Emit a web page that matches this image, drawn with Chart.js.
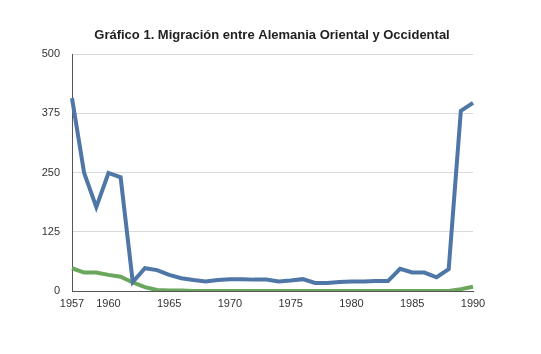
<!DOCTYPE html>
<html>
<head>
<meta charset="utf-8">
<script src="https://cdn.jsdelivr.net/npm/chart.js@4"></script>
<style>
  html, body { margin: 0; padding: 0; background: #fff; }
  #wrap { width: 541px; height: 354px; }
</style>
</head>
<body>
<div id="wrap"><canvas id="chart" width="541" height="354"></canvas></div>
<script>
// Years 1957-1990
const years = [1957, 1958, 1959, 1960, 1961, 1962, 1963, 1964, 1965, 1966, 1967,
    1968, 1969, 1970, 1971, 1972, 1973, 1974, 1975, 1976, 1977, 1978, 1979,
    1980, 1981, 1982, 1983, 1984, 1985, 1986, 1987, 1988, 1989, 1990];

// East -> West (thousands)
const eastToWest = [407, 249, 177, 249, 240, 19, 48, 44, 34, 27, 23,
    20, 23, 25, 25, 24, 24, 20, 22, 25, 17, 17, 19,
    20, 20, 21, 21, 47, 39, 39, 29, 46, 380, 397];

// West -> East (thousands)
const westToEast = [48, 39, 39, 34, 30, 18, 8, 2, 1, 1, 0,
    0, 0, 0, 0, 0, 0, 0, 0, 0, 0, 0, 0,
    0, 0, 0, 0, 0, 0, 0, 0, 0, 4, 9];

const xTickLabels = [1957, 1960, 1965, 1970, 1975, 1980, 1985, 1990];
const yTicks = [0, 125, 250, 375, 500];

const titleText = 'Gráfico 1. Migración entre Alemania Oriental y Occidental';
const fontFamily = "'Helvetica Neue', Helvetica, Arial, 'Liberation Sans', sans-serif";

// Title drawn centred over the page, like the original
const titlePlugin = {
    id: 'pageTitle',
    afterDraw(chart) {
        const ctx = chart.ctx;
        ctx.save();
        ctx.font = 'bold 13px ' + fontFamily;
        ctx.fillStyle = '#222';
        ctx.textAlign = 'center';
        ctx.textBaseline = 'middle';
        ctx.fillText(titleText, 272, 35);
        ctx.restore();
    }
};

new Chart(document.getElementById('chart').getContext('2d'), {
    type: 'line',
    data: {
        labels: years,
        datasets: [{
            label: 'Alemania Oriental a Occidental',
            data: eastToWest,
            borderColor: '#4e76a6',
            borderWidth: 4,
            pointRadius: 0,
            tension: 0,
            fill: false
        }, {
            label: 'Alemania Occidental a Oriental',
            data: westToEast,
            borderColor: '#6aa75c',
            borderWidth: 4,
            pointRadius: 0,
            tension: 0,
            fill: false
        }]
    },
    options: {
        responsive: false,
        animation: false,
        layout: { padding: { left: 0, right: 68, top: 54, bottom: 0 } },
        scales: {
            x: {
                grid: { display: false, drawTicks: false },
                border: { display: true, color: '#555', width: 1 },
                ticks: {
                    autoSkip: false,
                    maxRotation: 0,
                    padding: 6,
                    color: '#333',
                    font: { family: fontFamily, size: 11 },
                    callback: function (value, index) {
                        const y = years[index];
                        return xTickLabels.includes(y) ? String(y) : null;
                    }
                },
                afterFit: (scale) => { scale.height = 63; }
            },
            y: {
                min: 0,
                max: 500,
                afterBuildTicks: (scale) => {
                    scale.ticks = yTicks.map(v => ({ value: v }));
                },
                grid: { color: '#d9d9d9', lineWidth: 1, drawTicks: false },
                border: { display: true, color: '#555', width: 1 },
                ticks: {
                    padding: 12,
                    color: '#333',
                    font: { family: fontFamily, size: 11 }
                },
                afterFit: (scale) => { scale.width = 72; }
            }
        },
        plugins: {
            legend: { display: false },
            tooltip: { enabled: false },
            title: { display: false }
        }
    },
    plugins: [titlePlugin]
});
</script>
</body>
</html>
